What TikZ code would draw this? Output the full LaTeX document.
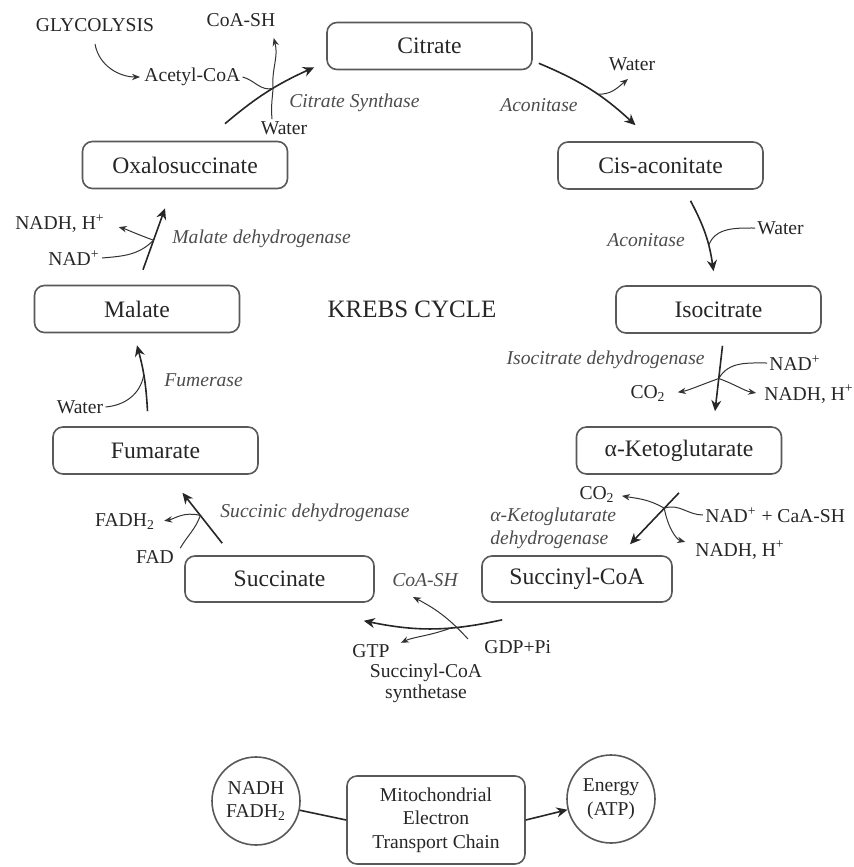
\documentclass[tikz,border=0pt]{standalone}
\usepackage{fontspec}
\setmainfont{Liberation Serif}
\usetikzlibrary{arrows.meta}

\tikzset{
  stage/.style={draw=black!65, line width=0.8pt, rounded corners=5pt,
    minimum width=102.5pt, minimum height=23.5pt, text=black!85,
    font=\fontsize{11.8}{13}\selectfont},
  chem/.style={text=black!85, inner sep=1pt, font=\fontsize{9.8}{11}\selectfont},
  enzyme/.style={text=black!70, inner sep=1pt, font=\fontsize{9.8}{11.5}\selectfont\itshape},
  pool/.style={circle, draw=black!65, line width=0.8pt, minimum size=44pt, inner sep=0pt,
    align=center, text=black!85, font=\fontsize{9.8}{11.7}\selectfont},
  mainflow/.style={-{Stealth[length=5.5pt,width=5pt]}, line width=0.8pt, draw=black!85},
  sideflow/.style={-{Stealth[length=4pt,width=3.2pt]}, line width=0.5pt, draw=black!80},
  feedline/.style={line width=0.5pt, draw=black!80},
}

\begin{document}
\begin{tikzpicture}[x=0.5pt, y=-0.5pt]
\useasboundingbox (0,0) rectangle (854,867);

% cycle intermediates
\node[stage] (citrate) at (429.5,46) {Citrate};
\node[stage] (cisacon) at (660.5,165.5) {Cis-aconitate};
\node[stage] (isocit) at (718.5,309.5) {Isocitrate};
\node[stage] (aketo) at (679,450.5) {α-Ketoglutarate};
\node[stage, minimum width=95pt, minimum height=23pt] (succoa) at (577,579) {Succinyl-CoA};
\node[stage, minimum width=94.5pt, minimum height=23pt] (succin) at (279.5,579) {Succinate};
\node[stage] (fumar) at (155.5,450.5) {Fumarate};
\node[stage] (malate) at (137,309) {Malate};
\node[stage] (oxalo) at (185,165) {Oxalosuccinate};

\node[text=black!85, font=\fontsize{12.5}{14}\selectfont] (title) at (412,309) {KREBS CYCLE};

% side substances
\node[chem] (glyco) at (95,25) {GLYCOLYSIS};
\node[chem, anchor=west] (acetyl) at (142,77) {Acetyl-CoA};
\node[chem] (coash1) at (241,20) {CoA-SH};
\node[chem] (water1) at (284,128) {Water};
\node[chem] (water2) at (632,64) {Water};
\node[chem, anchor=west] (water3) at (755,228) {Water};
\node[chem, anchor=west] (nad2) at (767,363) {NAD\textsuperscript{+}};
\node[chem, anchor=east] (co2a) at (668,394) {CO\textsubscript{2}};
\node[chem, anchor=west] (nadh2) at (762,394) {NADH, H\textsuperscript{+}};
\node[chem, anchor=east] (co2b) at (617,495) {CO\textsubscript{2}};
\node[chem, anchor=west] (nadcaa) at (703,515) {NAD\textsuperscript{+} + CaA-SH};
\node[chem, anchor=west] (nadh3) at (693,550) {NADH, H\textsuperscript{+}};
\node[chem, anchor=west] (gdp) at (482,647) {GDP+Pi};
\node[chem, anchor=west] (gtp) at (350,651) {GTP};
\node[chem, align=center, font=\fontsize{9.8}{10.5}\selectfont] (scs) at (426,683) {Succinyl-CoA\\synthetase};
\node[chem] (fadh) at (125,522) {FADH\textsubscript{2}};
\node[chem] (fad) at (155,557) {FAD};
\node[chem] (water4) at (80,407) {Water};
\node[chem] (nadh1) at (60,224) {NADH, H\textsuperscript{+}};
\node[chem] (nad1) at (74,258) {NAD\textsuperscript{+}};

% enzymes
\node[enzyme, anchor=west] (csyn) at (287,103) {Citrate Synthase};
\node[enzyme, anchor=east] (acon1) at (580,105) {Aconitase};
\node[enzyme, anchor=west] (acon2) at (605,240) {Aconitase};
\node[enzyme, anchor=east] (idh) at (707,360) {Isocitrate dehydrogenase};
\node[enzyme, anchor=west, align=left] (akdh) at (488,528) {α-Ketoglutarate\\dehydrogenase};
\node[enzyme] (coash2) at (425,580) {CoA-SH};
\node[enzyme, anchor=west] (sdh) at (218,513) {Succinic dehydrogenase};
\node[enzyme, anchor=west] (fum) at (162,380) {Fumerase};
\node[enzyme, anchor=west] (mdh) at (170,239) {Malate dehydrogenase};

% main steps
\draw[mainflow] ([xshift=20pt,yshift=8.5pt]oxalo.north) to[bend left=8] coordinate[pos=0.57] (j1) ([xshift=-6pt,yshift=1.5pt]citrate.south west);
\draw[mainflow] ([xshift=3pt,yshift=3.5pt]citrate.south east) to[bend left=10] coordinate[pos=0.58] (j2) ([xshift=-12.5pt,yshift=8pt]cisacon.north);
\draw[mainflow] ([xshift=15pt,yshift=-5.5pt]cisacon.south) to[bend left=10] coordinate[pos=0.66] (j3) ([xshift=-2.5pt,yshift=7pt]isocit.north);
\draw[mainflow] ([xshift=2pt,yshift=-6pt]isocit.south) -- coordinate[pos=0.5] (j4) ([xshift=18pt,yshift=7.5pt]aketo.north);
\draw[mainflow] ([yshift=-9pt]aketo.south) -- coordinate[pos=0.3] (j5) ([xshift=26.5pt,yshift=5.5pt]succoa.north);
\draw[mainflow] ([xshift=10.5pt,yshift=-8.5pt]succoa.south west) to[bend left=12] coordinate[pos=0.36] (j6) ([xshift=-5.5pt,yshift=-9pt]succin.south east);
\draw[mainflow] ([xshift=19pt,yshift=6pt]succin.north west) -- coordinate[pos=0.55] (j7) ([xshift=13.5pt,yshift=-9pt]fumar.south);
\draw[mainflow] ([xshift=-4pt,yshift=7.5pt]fumar.north) to[bend right=6] coordinate[pos=0.55] (j8) ([yshift=-6pt]malate.south);
\draw[mainflow] ([xshift=3pt,yshift=7.5pt]malate.north) -- coordinate[pos=0.48] (j9) ([xshift=-10pt,yshift=-9.5pt]oxalo.south);

% side arrows
\draw[sideflow, shorten >=1pt] ([yshift=-5pt]glyco.south) to[out=-80,in=180] (acetyl.west);
\draw[feedline] (acetyl.east) to[out=-15,in=195] (j1);
\draw[sideflow] (j1) to[out=95,in=-75] ([xshift=-2pt,yshift=-4.5pt]coash1.south east);
\draw[feedline] ([xshift=-6pt]water1.north) to[out=95,in=-95] (j1);

\draw[sideflow] (j2) to[out=-5,in=-140] ([xshift=-2pt,yshift=-3pt]water2.south);
\draw[feedline] (water3.west) to[out=180,in=70] (j3);

\draw[feedline] (nad2.west) to[out=180,in=60] (j4);
\draw[sideflow, shorten >=5pt] (j4) to[out=200,in=10] (co2a.east);
\draw[sideflow, shorten >=3pt] (j4) to[out=-20,in=170] (nadh2.west);

\draw[sideflow, shorten >=2.5pt] (j5) to[out=150,in=-10] (co2b.east);
\draw[feedline] (nadcaa.west) to[out=180,in=20] (j5);
\draw[sideflow, shorten >=4pt] (j5) to[out=-80,in=165] ([yshift=3pt]nadh3.west);

\draw[sideflow] ([xshift=-7pt,yshift=4pt]gdp.west) to[bend right=10] ([xshift=-6pt,yshift=-4pt]coash2.south);
\draw[sideflow, shorten >=5pt] (j6) to[out=200,in=25] ([yshift=2pt]gtp.east);

\draw[feedline] ([xshift=2pt]fad.north east) to[out=60,in=-110] (j7);
\draw[sideflow, shorten >=3.5pt] (j7) to[out=165,in=10] (fadh.east);

\draw[feedline] (water4.east) to[out=5,in=-100] (j8);

\draw[feedline] (nad1.east) to[out=5,in=-135] (j9);
\draw[sideflow, shorten >=6pt] (j9) to[out=160,in=-15] (nadh1.east);

% electron transport
\node[pool] (nadhc) at (256,801) {NADH\\FADH\textsubscript{2}};
\node[stage, minimum width=89pt, minimum height=44pt, align=center, font=\fontsize{9.8}{11.7}\selectfont] (etc) at (436,820) {Mitochondrial\\Electron\\Transport Chain};
\node[pool] (energy) at (611,799) {Energy\\(ATP)};
\draw[line width=0.8pt, draw=black!85] (nadhc) -- (etc.west);
\draw[mainflow] (etc.east) -- (energy);
\end{tikzpicture}
\end{document}
